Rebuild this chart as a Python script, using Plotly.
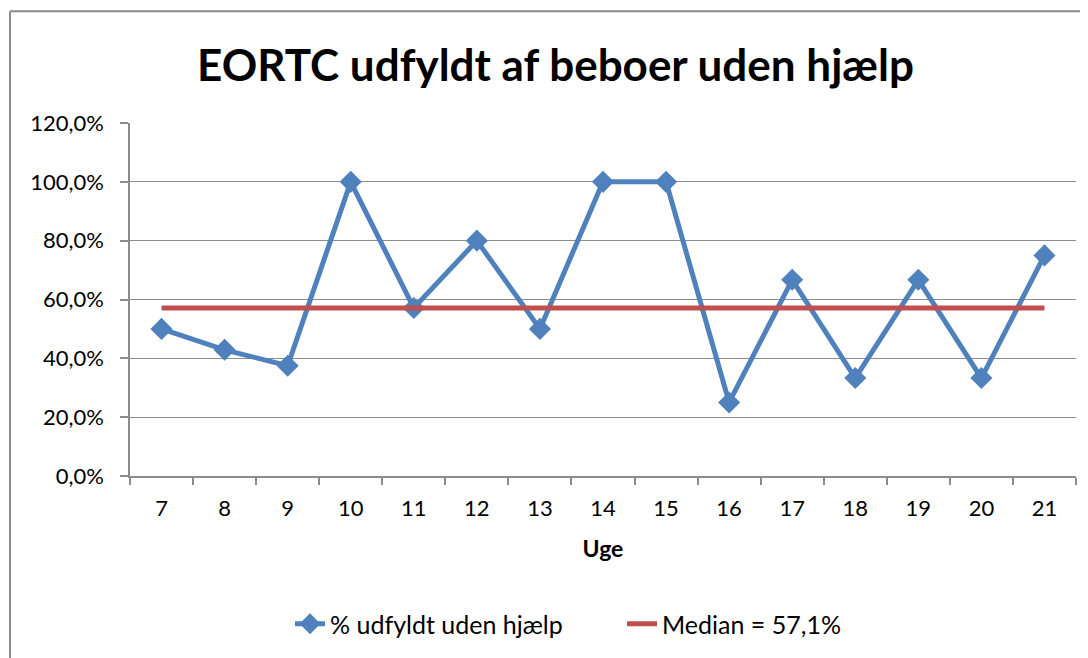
import plotly.graph_objects as go

weeks = ["7", "8", "9", "10", "11", "12", "13", "14", "15", "16", "17", "18", "19", "20", "21"]
pct_uden_hjaelp = [0.50, 0.429, 0.375, 1.00, 0.571, 0.80, 0.50, 1.00, 1.00, 0.25, 0.667, 0.333, 0.667, 0.333, 0.75]
median_value = 0.571

BLUE = "#4F81BD"
RED = "#C0504D"
GRID = "#8C8C8C"
FONT = "Lato, Open Sans, sans-serif"

OFF = 8  # page body margin
W, H = 1088 - OFF, 658 - OFF
L, R, T, B = 130 - OFF, 12, 123 - OFF, 181
pw = W - L - R
ph = H - T - B

def px_x(p):
    return (p - OFF - L) / pw

def px_y(p):
    return (H - B - (p - OFF)) / ph

fig = go.Figure()
fig.add_trace(go.Scatter(
    x=weeks, y=pct_uden_hjaelp, mode="lines+markers",
    name="% udfyldt uden hjælp",
    line=dict(color=BLUE, width=5),
    marker=dict(symbol="diamond", size=17, color=BLUE),
    legend="legend",
))
fig.add_trace(go.Scatter(
    x=weeks, y=[median_value] * len(weeks), mode="lines",
    name="Median = 57,1%",
    line=dict(color=RED, width=5),
    legend="legend2",
))

legend_common = dict(orientation="h", yanchor="middle", y=px_y(624),
                     font=dict(family=FONT, size=25), bgcolor="rgba(0,0,0,0)")

fig.update_layout(
    width=W, height=H,
    margin=dict(l=L, r=R, t=T, b=B),
    paper_bgcolor="white", plot_bgcolor="white",
    separators=",.",
    font=dict(family=FONT, size=22, color="#000000"),
    title=dict(text="<b>EORTC udfyldt af beboer uden hjælp</b>",
               font=dict(family=FONT, size=44, color="#000000"),
               x=(555.5 - OFF) / W, xanchor="center", y=1 - (66 - OFF) / H, yanchor="middle"),
    showlegend=True,
    legend=dict(x=px_x(290), xanchor="left", **legend_common),
    legend2=dict(x=px_x(622), xanchor="left", **legend_common),
    xaxis=dict(type="category", range=[-0.5, 14.5], tickson="boundaries",
               ticks="outside", ticklen=7, tickcolor=GRID, tickwidth=1.5,
               showline=True, linecolor=GRID, linewidth=1.5, showgrid=False,
               tickfont=dict(family=FONT, size=22), ticklabelstandoff=12,
               title=dict(text="<b>Uge</b>", font=dict(family=FONT, size=23), standoff=21),
               fixedrange=True),
    yaxis=dict(range=[0, 1.2], dtick=0.2, tickformat=".1%",
               ticks="outside", ticklen=8, tickcolor=GRID, tickwidth=1.5,
               showline=True, linecolor=GRID, linewidth=1.5,
               showgrid=True, gridcolor=GRID, gridwidth=1.2, zeroline=False,
               tickfont=dict(family=FONT, size=22), ticklabelstandoff=12, fixedrange=True),
    shapes=[
        dict(type="line", xref="paper", yref="paper", x0=px_x(10), x1=px_x(1100),
             y0=px_y(11), y1=px_y(11), line=dict(color="#8C8C8C", width=2)),
        dict(type="line", xref="paper", yref="paper", x0=px_x(10), x1=px_x(10),
             y0=px_y(11), y1=px_y(670), line=dict(color="#8C8C8C", width=2)),
    ],
)

fig.write_html("out.html")
